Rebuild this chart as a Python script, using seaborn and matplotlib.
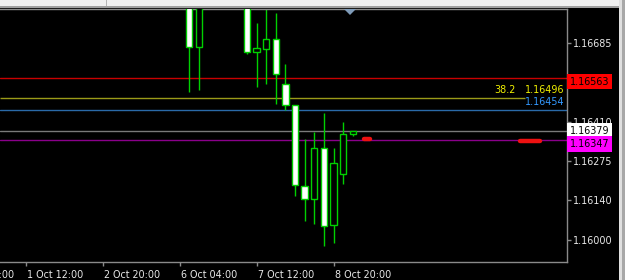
import numpy as np
import pandas as pd
import seaborn as sns
import matplotlib
matplotlib.use("Agg")
import matplotlib.pyplot as plt
from matplotlib import transforms
from matplotlib.patches import Rectangle, Polygon

# ---------------- data ----------------
candle_idx = [-15, -14, -9, -8, -7, -6, -5, -4, -3, -2, -1, 0, 1, 2]
opens  = [1.16830, 1.16673, 1.16840, 1.16656, 1.16666, 1.16699, 1.16542,
          1.16471, 1.16188, 1.16142, 1.16321, 1.16051, 1.16229, 1.16368]
closes = [1.16673, 1.16830, 1.16656, 1.16668, 1.16699, 1.16579, 1.16471,
          1.16190, 1.16141, 1.16321, 1.16049, 1.16269, 1.16368, 1.16379]
highs  = [1.16850, 1.16850, 1.16860, 1.16757, 1.16820, 1.16792, 1.16612,
          1.16471, 1.16352, 1.16377, 1.16442, 1.16321, 1.16410, 1.16379]
lows   = [1.16515, 1.16522, 1.16648, 1.16534, 1.16542, 1.16472, 1.16453,
          1.16154, 1.16066, 1.16054, 1.15980, 1.15990, 1.16194, 1.16361]

ytick_values = [1.16685, 1.16410, 1.16275, 1.16140, 1.16000]
ytick_labels = ["1.16685", "1.16410", "1.16275", "1.16140", "1.16000"]

xtick_idx = [-40, -32, -24, -16, -8, 0]
xtick_labels = ["30 Sep 04:00", "1 Oct 12:00", "2 Oct 20:00",
                "6 Oct 04:00", "7 Oct 12:00", "8 Oct 20:00"]

level_prices = [1.16563, 1.16454, 1.16379, 1.16347]
level_colors = ["#c80000", "#2a6aa8", "#7a7a7a", "#8a008a"]

fib_price = 1.16496
fib_label = "38.2"

box_prices = [1.16563, 1.16379, 1.16347]
box_labels = ["1.16563", "1.16379", "1.16347"]
box_colors = ["#ff0000", "#ffffff", "#ff00ff"]

marker_x0 = [3.15, 19.4]
marker_x1 = [3.8, 21.4]
marker_y = [1.16353, 1.16345]

df = pd.DataFrame({"idx": candle_idx, "open": opens, "close": closes,
                   "high": highs, "low": lows})
df["bull"] = df["close"] >= df["open"]

# ---------------- style ----------------
sns.set_theme(style="dark", rc={
    "axes.facecolor": "black", "figure.facecolor": "black",
    "axes.edgecolor": "#808080", "axes.grid": False,
})
plt.rcParams["font.family"] = ["DejaVu Sans"]
FS = 6.9
TXT = "#e8e8e8"
GREEN = "#00d000"

W, H = 625, 280
fig = plt.figure(figsize=(W / 100, H / 100), dpi=100)
ax = fig.add_axes([0, 1 - 262 / H, 566.5 / W, (262 - 9) / H])
ax.set_facecolor("black")

ax.set_xlim(-34.65, 24.2)
ax.set_ylim(1.15923, 1.168045)

# horizontal levels
for p, c in zip(level_prices, level_colors):
    ax.axhline(p, color=c, lw=1, zorder=1)
ax.hlines(fib_price, -34.65, 19.9, color="#9a9a18", lw=1, zorder=1)

# candles
ax.vlines(df["idx"], df["low"], df["high"], color=GREEN, lw=1, zorder=2)
fills = np.where(df["bull"], "black", "white")
ax.bar(df["idx"], df["close"] - df["open"], bottom=df["open"], width=0.66,
       color=fills, edgecolor=GREEN, linewidth=1, zorder=3)

# red markers
for x0, x1, y in zip(marker_x0, marker_x1, marker_y):
    ax.plot([x0, x1], [y, y], color="#ee1111", lw=3.2,
            solid_capstyle="round", zorder=4)

# axes / ticks
ax.spines["left"].set_visible(False)
for s in ["right", "bottom", "top"]:
    ax.spines[s].set_visible(True)
    ax.spines[s].set_color("#8a8a8a")
    ax.spines[s].set_linewidth(1)

ax.yaxis.tick_right()
ax.set_yticks(ytick_values)
ax.set_yticklabels(ytick_labels)
ax.tick_params(axis="y", right=True, left=False, direction="out", length=3,
               width=1, color="#8a8a8a", labelcolor=TXT, labelsize=FS, pad=1.5)
ax.set_xticks([t for t in xtick_idx if t > -34.65])
ax.set_xticklabels([])
ax.tick_params(axis="x", bottom=True, direction="out", length=3, width=1,
               color="#8a8a8a")
ax.set_xlabel("")
ax.set_ylabel("")

xt = transforms.blended_transform_factory(ax.transData, ax.transAxes)
for t, lab in zip(xtick_idx, xtick_labels):
    ax.annotate(lab, xy=(t, 0), xycoords=xt, xytext=(1, -6),
                textcoords="offset points", ha="left", va="top",
                fontsize=FS, color=TXT, annotation_clip=False)

# price boxes on the axis
yt = transforms.blended_transform_factory(ax.transAxes, ax.transData)
box_offsets = [-2.3, 0.0, -2.7]
for p, lab, c, off in zip(box_prices, box_labels, box_colors, box_offsets):
    ax.annotate(lab, xy=(1, p), xycoords=yt, xytext=(2.2, off),
                textcoords="offset points", ha="left", va="center",
                fontsize=FS, color="black", annotation_clip=False, zorder=6,
                bbox=dict(boxstyle="square,pad=0.3", fc=c, ec="none"))

# fib / line labels
ax.annotate(fib_label, xy=(1, fib_price), xycoords=yt, xytext=(-36.4, 2),
            textcoords="offset points", ha="right", va="bottom",
            fontsize=FS, color="#f0f000", annotation_clip=False)
ax.annotate("1.16496", xy=(1, fib_price), xycoords=yt, xytext=(-1.5, 2),
            textcoords="offset points", ha="right", va="bottom",
            fontsize=FS, color="#f0f000", annotation_clip=False)
ax.annotate("1.16454", xy=(1, level_prices[1]), xycoords=yt, xytext=(-1.5, 2),
            textcoords="offset points", ha="right", va="bottom",
            fontsize=FS, color="#3399ff", annotation_clip=False)

# window chrome
ft = fig.transFigure
def px_rect(x, y, w, h, c):
    fig.patches.append(Rectangle((x / W, 1 - (y + h) / H), w / W, h / H,
                                 transform=ft, fc=c, ec="none", zorder=10))
px_rect(0, 0, W, 6, "#f0f0f0")
px_rect(0, 6, W, 2, "#a0a0a0")
px_rect(106, 0, 1, 6, "#b4b4b4")
px_rect(619, 0, 3, H, "#e0e0e0")
px_rect(622, 0, 3, H, "#a8a8a8")
fig.patches.append(Polygon([(344 / W, 1 - 9 / H), (356 / W, 1 - 9 / H),
                            (350 / W, 1 - 15 / H)], closed=True,
                           transform=ft, fc="#7f9bb8", ec="none", zorder=11))

fig.savefig("out.png", dpi=100, facecolor="black")
